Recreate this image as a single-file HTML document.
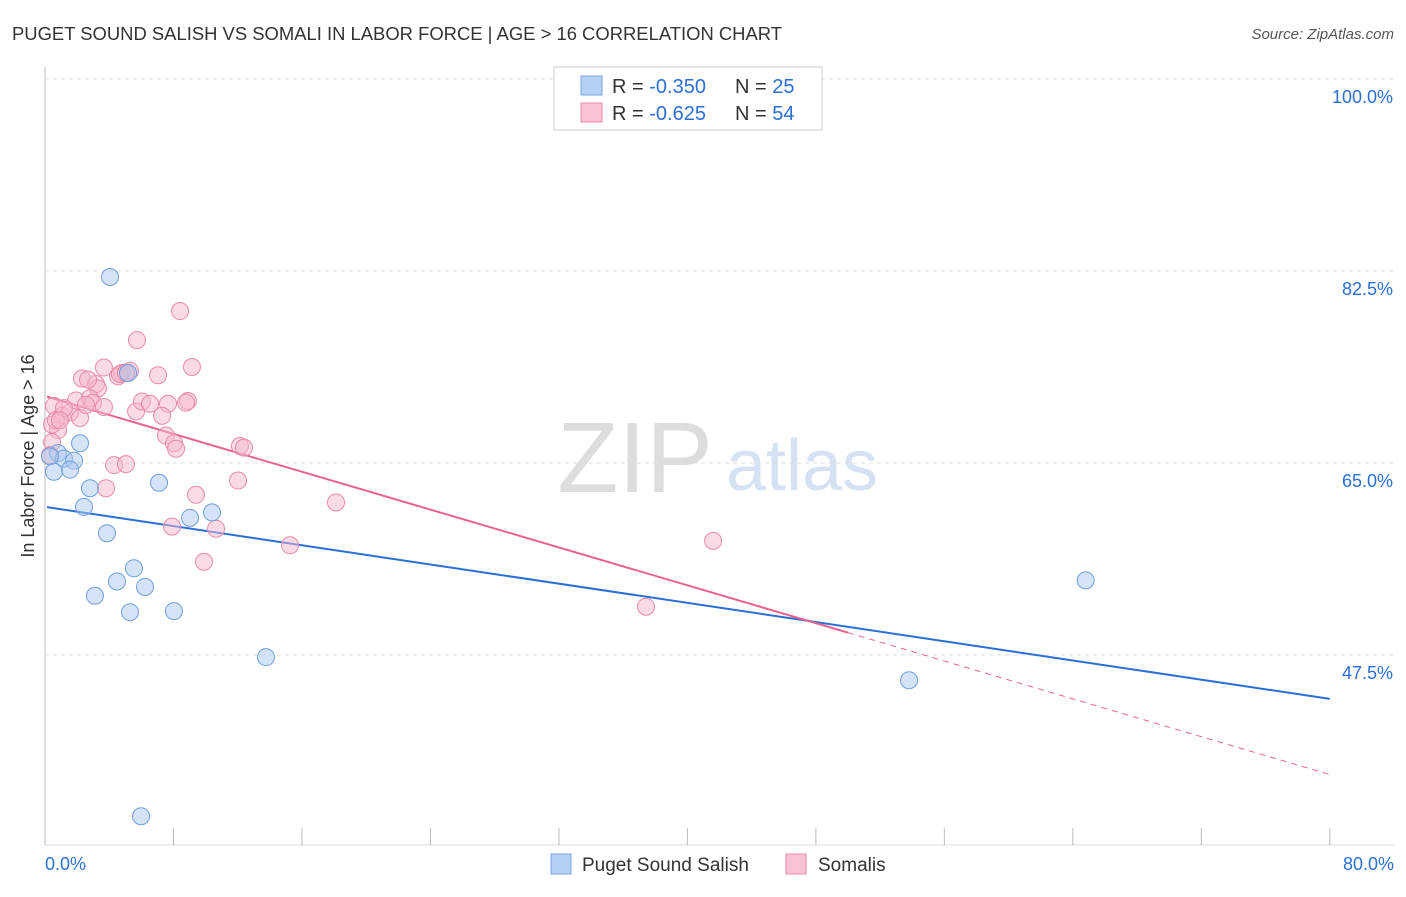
<!DOCTYPE html>
<html><head><meta charset="utf-8"><style>
body{margin:0;background:#fff;font-family:"Liberation Sans",sans-serif;}
svg text{font-family:"Liberation Sans",sans-serif;}
</style></head><body>
<svg id="c" width="1406" height="892" xmlns="http://www.w3.org/2000/svg">
<text x="12" y="40" font-size="18" fill="#333" textLength="770" lengthAdjust="spacingAndGlyphs">PUGET SOUND SALISH VS SOMALI IN LABOR FORCE | AGE &gt; 16 CORRELATION CHART</text>
<text x="1394" y="39" font-size="15" fill="#555" font-style="italic" text-anchor="end">Source: ZipAtlas.com</text>
<text x="635" y="492" font-size="100" fill="#ddd" font-family="Liberation Serif" text-anchor="middle">ZIP</text>
<text x="802" y="490" font-size="72" fill="#d4e2f4" text-anchor="middle">atlas</text>
<text transform="translate(34,456) rotate(-90)" font-size="18" fill="#333" text-anchor="middle">In Labor Force | Age &gt; 16</text>
<g id="grid"></g><g id="lines"></g><g id="pts"></g>
<g>
<rect x="554" y="67" width="268" height="63" fill="#fff" stroke="#ccc"/>
<rect x="581" y="76" width="21" height="19" fill="#b5d0f4" stroke="#7aa6e0"/>
<rect x="581" y="103" width="21" height="19" fill="#f8c4d4" stroke="#e98aaa"/>
<text x="612" y="93" font-size="20" fill="#333">R = <tspan fill="#2b6fd6">-0.350</tspan></text>
<text x="735" y="93" font-size="20" fill="#333">N = <tspan fill="#2b6fd6">25</tspan></text>
<text x="612" y="120" font-size="20" fill="#333">R = <tspan fill="#2b6fd6">-0.625</tspan></text>
<text x="735" y="120" font-size="20" fill="#333">N = <tspan fill="#2b6fd6">54</tspan></text>
</g>
<g>
<rect x="551" y="854" width="20" height="20" fill="#b5d0f4" stroke="#7aa6e0"/>
<text x="582" y="871" font-size="19" fill="#333">Puget Sound Salish</text>
<rect x="786" y="854" width="20" height="20" fill="#f8c4d4" stroke="#e98aaa"/>
<text x="818" y="871" font-size="19" fill="#333">Somalis</text>
</g>
</svg>
<script>
const yTicks=[100,82.5,65,47.5];
const yTickLabels=["100.0%","82.5%","65.0%","47.5%"];
const xTickLabels=["0.0%","80.0%"];
const blueX=[4.05,5.17,2.18,0.81,1.18,1.81,0.31,0.56,1.56,2.8,2.43,7.1,3.86,9.03,10.4,5.54,4.48,6.23,3.11,5.29,8.03,13.76,5.98,53.8,64.8];
const blueY=[81.95,73.2,66.8,65.9,65.4,65.2,65.6,64.2,64.4,62.7,61.0,63.2,58.6,60.0,60.5,55.4,54.2,53.7,52.9,51.4,51.5,47.3,32.8,45.2,54.3];
const pinkX=[8.41,5.73,3.67,9.15,2.3,4.79,5.29,4.55,7.04,3.18,3.3,0.56,1.06,1.56,1.93,1.18,2.8,2.99,2.18,0.81,0.44,0.31,3.67,5.67,6.04,6.54,7.66,8.9,8.78,7.29,7.53,8.03,8.16,12.14,12.39,4.3,5.04,3.8,9.4,12.02,18.12,7.91,10.65,15.26,9.9,41.6,37.42,0.44,0.68,2.55,4.67,5.04,0.93,2.68];
const pinkY=[78.85,76.2,73.7,73.75,72.7,73.2,73.4,72.9,73.0,72.2,71.8,70.2,69.3,69.6,70.7,70.0,70.9,70.5,69.1,68.0,66.9,65.7,70.1,69.7,70.6,70.4,70.4,70.65,70.5,69.3,67.5,66.8,66.3,66.55,66.4,64.8,64.9,62.7,62.1,63.4,61.4,59.2,59.0,57.5,56.0,57.9,51.9,68.5,68.9,70.3,73.1,73.2,68.9,72.6];
const blueTrend=[61.0,43.5];
const pinkTrend=[71.1,36.6];
const pinkSolidEnd=50;
const NS="http://www.w3.org/2000/svg";
const X=v=>45+v*16.06, Y=v=>79+(100-v)*10.971;
function mk(t,a,p){const e=document.createElementNS(NS,t);for(const k in a)e.setAttribute(k,a[k]);p.appendChild(e);return e;}
const grid=document.getElementById('grid');
mk('line',{x1:45,y1:67,x2:45,y2:845,stroke:'#bbb'},grid);
mk('line',{x1:45,y1:845,x2:1394,y2:845,stroke:'#ddd'},grid);
yTicks.forEach((t,i)=>{
 const g=mk('line',{x1:45,y1:Y(t),x2:1394,y2:Y(t),stroke:'#ddd','stroke-dasharray':'4,4'},grid);
 
 
 const tx=mk('text',{x:1393,y:Y(t)+24,'font-size':18,fill:'#2b6fd6','text-anchor':'end'},grid);
 tx.textContent=yTickLabels[i];
 
 
});
for(let i=0;i<=10;i++){
 const l=mk('line',{x1:X(i*8),y1:828,x2:X(i*8),y2:845,stroke:'#bbb'},grid);
 
 
}
[[0,'start',45],[80,'end',1394]].forEach((d,i)=>{
 const tx=mk('text',{x:d[2],y:870,'font-size':18,fill:'#2b6fd6','text-anchor':d[1]},grid);
 tx.textContent=xTickLabels[i];
 
 
});
const pts=document.getElementById('pts');
function dots(xs,ys,fill,stroke,name){xs.forEach((x,i)=>{
 const c=mk('circle',{cx:X(x),cy:Y(ys[i]),r:8.5,fill:fill,'fill-opacity':0.5,stroke:stroke,'stroke-width':1},pts);
 
 
});}
dots(pinkX,pinkY,'#f6b8cb','#e98aaa','somalis-point');
dots(blueX,blueY,'#a9c8f0','#6f9fdc','puget-sound-salish-point');
const lines=document.getElementById('lines');
const py=x=>pinkTrend[0]+(pinkTrend[1]-pinkTrend[0])*x/80;
let l1=mk('line',{x1:X(0.12),y1:Y(blueTrend[0]+(blueTrend[1]-blueTrend[0])*0.12/80),x2:X(80),y2:Y(blueTrend[1]),stroke:'#2b6fd6','stroke-width':2},lines);


let l2=mk('line',{x1:X(0.12),y1:Y(py(0.12)),x2:X(pinkSolidEnd),y2:Y(py(pinkSolidEnd)),stroke:'#e8648f','stroke-width':2},lines);


let l3=mk('line',{x1:X(pinkSolidEnd),y1:Y(py(pinkSolidEnd)),x2:X(80),y2:Y(pinkTrend[1]),stroke:'#e8648f','stroke-width':1,'stroke-dasharray':'6,5'},lines);


</script>
</body></html>
